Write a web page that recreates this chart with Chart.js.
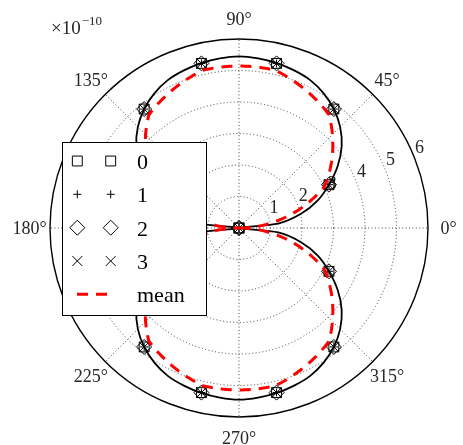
<!DOCTYPE html>
<html>
<head>
<meta charset="utf-8">
<script src="https://cdn.jsdelivr.net/npm/chart.js@4/dist/chart.umd.min.js"></script>
<style>
  html, body { margin: 0; padding: 0; background: #fff; }
  #wrap { width: 463px; height: 445px; }
</style>
</head>
<body>
<div id="wrap"><canvas id="c" width="463" height="445"></canvas></div>
<script>
// Angular grid of 56 spokes (360/56 deg): every 45° guide and every one of
// the 14 sample directions falls on a spoke.
const SPOKES = 56;
const STEP = 360 / SPOKES;

// sample directions (degrees, counter-clockwise from east)
const sampleAngles = [0, 25.7, 51.4, 77.1, 102.9, 128.6, 154.3, 180, 205.7, 231.4, 257.1, 282.9, 308.6, 334.3];

// measured series (units of 1e-10)
const series0 = [0, 3.17, 4.83, 5.36, 5.36, 4.83, 3.17, 0, 3.17, 4.83, 5.36, 5.36, 4.83, 3.17];
const series1 = [0, 3.17, 4.83, 5.36, 5.36, 4.83, 3.17, 0, 3.17, 4.83, 5.36, 5.36, 4.83, 3.17];
const series2 = [0, 3.17, 4.83, 5.36, 5.36, 4.83, 3.17, 0, 3.17, 4.83, 5.36, 5.36, 4.83, 3.17];
const series3 = [0, 3.17, 4.83, 5.36, 5.36, 4.83, 3.17, 0, 3.17, 4.83, 5.36, 5.36, 4.83, 3.17];
const meanSeries = [0, 3.00, 4.59, 5.14, 5.14, 4.59, 3.00, 0, 3.00, 4.59, 5.14, 5.14, 4.59, 3.00];

// reference curve, one value per spoke (spoke j at j*360/56 deg)
const curveValues = [
  0, 1.25, 2.02, 2.65, 3.17, 3.70, 4.17, 4.54, 4.83, 5.05, 5.21, 5.30, 5.37, 5.42, 5.45,
  5.42, 5.37, 5.30, 5.21, 5.05, 4.83, 4.54, 4.17, 3.70, 3.17, 2.65, 2.02, 1.25, 0,
  1.25, 2.02, 2.65, 3.17, 3.70, 4.17, 4.54, 4.83, 5.05, 5.21, 5.30, 5.37, 5.42, 5.45,
  5.42, 5.37, 5.30, 5.21, 5.05, 4.83, 4.54, 4.17, 3.70, 3.17, 2.65, 2.02, 1.25
];

const angleTicks = [0, 45, 90, 135, 180, 225, 270, 315];
const radialTicks = [1, 2, 3, 4, 5, 6];
const seriesNames = ['0', '1', '2', '3', 'mean'];

// The radial scale runs clockwise from its first spoke; map a
// counter-clockwise angle onto the scale's spoke index.
function spokeIndex(deg) { return (SPOKES - deg / STEP); }
function radarSlot(deg) { return ((SPOKES - Math.round(deg / STEP)) % SPOKES + SPOKES) % SPOKES; }

const spokeLabels = [];
for (let i = 0; i < SPOKES; i++) spokeLabels.push(((SPOKES - i) % SPOKES) * STEP);

function sampledToSpokes(values) {
  const out = new Array(SPOKES).fill(null);
  sampleAngles.forEach((a, k) => { out[radarSlot(a)] = values[k]; });
  return out;
}
const curveData = new Array(SPOKES);
curveValues.forEach((v, j) => { curveData[(SPOKES - j) % SPOKES] = v; });

const SERIF = '"Liberation Serif", "DejaVu Serif", serif';

function markerSet(label, values, style, radius) {
  return {
    label, data: sampledToSpokes(values), showLine: false,
    pointStyle: style, pointRadius: radius, pointHoverRadius: radius,
    pointBorderColor: '#000', pointBackgroundColor: 'rgba(0,0,0,0)', pointBorderWidth: 1,
    borderColor: '#000', backgroundColor: 'rgba(0,0,0,0)'
  };
}

// dashed mean line, drawn with straight runs in (angle, radius) space
const meanPathPlugin = {
  id: 'meanPath',
  afterDatasetsDraw(chart) {
    const scale = chart.scales.r;
    const ds = chart.data.datasets[5];
    const ctx = chart.ctx;
    const n = sampleAngles.length;
    ctx.save();
    ctx.beginPath();
    let first = true;
    for (let k = 0; k < n; k++) {
      const a = sampleAngles[k], b = k + 1 < n ? sampleAngles[k + 1] : 360;
      const ra = meanSeries[k], rb = meanSeries[(k + 1) % n];
      const SUB = 24;
      for (let s = 0; s <= SUB; s++) {
        const t = s / SUB;
        const p = scale.getPointPositionForValue(spokeIndex(a + (b - a) * t), ra + (rb - ra) * t);
        if (first) { ctx.moveTo(p.x, p.y); first = false; } else ctx.lineTo(p.x, p.y);
      }
    }
    ctx.strokeStyle = ds.borderColor;
    ctx.lineWidth = ds.borderWidth;
    ctx.setLineDash(ds.borderDash);
    ctx.stroke();
    ctx.restore();
  }
};

// radial value labels along the 22.5° direction
const radialLabelPlugin = {
  id: 'radialLabels',
  beforeDatasetsDraw(chart) {
    const scale = chart.scales.r;
    const ctx = chart.ctx;
    ctx.save();
    ctx.font = '18px ' + SERIF;
    ctx.fillStyle = '#262626';
    ctx.textAlign = 'left';
    ctx.textBaseline = 'alphabetic';
    radialTicks.forEach(v => {
      const p = scale.getPointPositionForValue(spokeIndex(22.5), v);
      ctx.fillText(String(v), p.x + 1.5, p.y - 3);
    });
    ctx.restore();
  }
};

function drawMarker(ctx, style, radius, x, y) {
  const h = Chart.helpers;
  if (h && h.drawPoint) {
    h.drawPoint(ctx, { pointStyle: style, radius, borderWidth: 1, rotation: 0 }, x, y);
  }
}

// angle labels, exponent note and legend box
const overlayPlugin = {
  id: 'overlay',
  afterDraw(chart) {
    const scale = chart.scales.r;
    const ctx = chart.ctx;
    ctx.save();
    ctx.fillStyle = '#262626';
    ctx.font = '18px ' + SERIF;
    ctx.textAlign = 'center';
    ctx.textBaseline = 'alphabetic';
    angleTicks.forEach(a => {
      const p = scale.getPointPosition(spokeIndex(a), scale.drawingArea + 20.5);
      ctx.fillText(a + '°', p.x, p.y + 6);
    });

    // scale factor note
    ctx.textAlign = 'left';
    ctx.font = '19px ' + SERIF;
    ctx.fillText('×10', 51, 34);
    const w = ctx.measureText('×10').width;
    ctx.font = '13px ' + SERIF;
    ctx.fillText('−10', 51 + w + 1, 25);

    // legend
    const bx = 62, by = 142, bw = 144, bh = 173;
    ctx.fillStyle = '#fff';
    ctx.fillRect(bx, by, bw, bh);
    ctx.strokeStyle = '#000';
    ctx.lineWidth = 1;
    ctx.setLineDash([]);
    ctx.strokeRect(bx + 0.5, by + 0.5, bw, bh);

    const rowY = [161, 194.3, 227.7, 261, 294.3];
    const mx = [77.3, 110.7];
    chart.data.datasets.slice(1, 5).forEach((ds, i) => {
      ctx.strokeStyle = '#000';
      ctx.fillStyle = 'rgba(0,0,0,0)';
      ctx.lineWidth = 1;
      mx.forEach(x => drawMarker(ctx, ds.pointStyle, ds.pointRadius, x, rowY[i]));
    });
    const meanDs = chart.data.datasets[5];
    ctx.beginPath();
    ctx.moveTo(77, rowY[4]);
    ctx.lineTo(111, rowY[4]);
    ctx.strokeStyle = meanDs.borderColor;
    ctx.lineWidth = meanDs.borderWidth;
    ctx.setLineDash(meanDs.borderDash);
    ctx.stroke();
    ctx.setLineDash([]);

    ctx.fillStyle = '#000';
    ctx.font = '22px ' + SERIF;
    ctx.textAlign = 'left';
    seriesNames.forEach((name, i) => ctx.fillText(name, 137, rowY[i] + 8));
    ctx.restore();
  }
};

new Chart(document.getElementById('c'), {
  type: 'radar',
  data: {
    labels: spokeLabels,
    datasets: [
      {
        label: 'curve', data: curveData, borderColor: '#000', borderWidth: 1.8,
        backgroundColor: 'rgba(0,0,0,0)', fill: false, tension: 0.25,
        pointRadius: 0, pointHoverRadius: 0
      },
      markerSet(seriesNames[0], series0, 'rect', 7),
      markerSet(seriesNames[1], series1, 'cross', 4),
      markerSet(seriesNames[2], series2, 'rectRot', 7.5),
      markerSet(seriesNames[3], series3, 'crossRot', 7),
      {
        label: seriesNames[4], data: sampledToSpokes(meanSeries), showLine: false,
        pointRadius: 0, pointHoverRadius: 0,
        borderColor: '#ff0000', borderWidth: 3, borderDash: [11, 8],
        backgroundColor: 'rgba(0,0,0,0)'
      }
    ]
  },
  options: {
    responsive: false,
    animation: false,
    devicePixelRatio: 1,
    layout: { padding: { left: 50, right: 34, top: 39, bottom: 27 } },
    plugins: { legend: { display: false }, tooltip: { enabled: false } },
    scales: {
      r: {
        min: 0, max: 6, startAngle: 90,
        ticks: { display: false, stepSize: 1 },
        pointLabels: { display: false },
        grid: {
          circular: true,
          color: ctx => (ctx.tick && ctx.tick.value === 6) ? '#000' : '#333',
          lineWidth: ctx => (ctx.tick && ctx.tick.value === 6) ? 1.4 : 0.9
        },
        border: {
          dash: ctx => (ctx.tick && ctx.tick.value === 6) ? [] : [1, 2.4]
        },
        angleLines: {
          color: '#333',
          lineWidth: ctx => (ctx.index % 7 === 0) ? 0.9 : 0,
          borderDash: [1, 2.4]
        }
      }
    }
  },
  plugins: [radialLabelPlugin, meanPathPlugin, overlayPlugin]
});
</script>
</body>
</html>
